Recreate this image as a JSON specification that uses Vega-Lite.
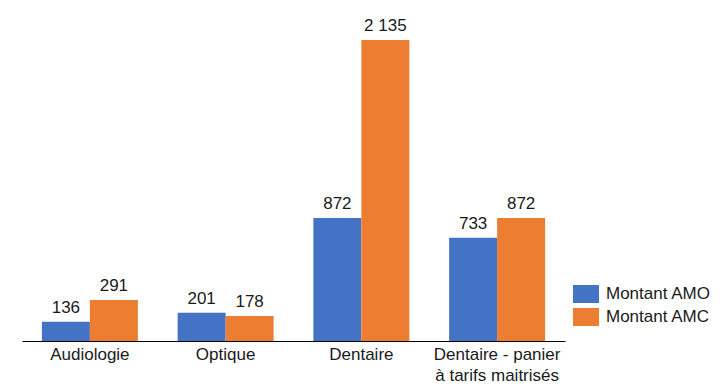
{
  "$schema": "https://vega.github.io/schema/vega-lite/v6.json",
  "width": 543,
  "height": 330,
  "autosize": {"type": "none"},
  "padding": {"left": 22, "top": 11, "right": 163, "bottom": 47},
  "background": "white",
  "config": {
    "font": "Liberation Sans",
    "view": {"stroke": null},
    "locale": {"number": {"decimal": ",", "thousands": " ", "grouping": [3], "currency": ["", " €"]}}
  },
  "data": {
    "values": [
      {"cat": "Audiologie", "serie": "Montant AMO", "value": 136},
      {"cat": "Audiologie", "serie": "Montant AMC", "value": 291},
      {"cat": "Optique", "serie": "Montant AMO", "value": 201},
      {"cat": "Optique", "serie": "Montant AMC", "value": 178},
      {"cat": "Dentaire", "serie": "Montant AMO", "value": 872},
      {"cat": "Dentaire", "serie": "Montant AMC", "value": 2135},
      {"cat": "Dentaire - panier à tarifs maitrisés", "serie": "Montant AMO", "value": 733},
      {"cat": "Dentaire - panier à tarifs maitrisés", "serie": "Montant AMC", "value": 872}
    ]
  },
  "encoding": {
    "x": {
      "field": "cat", "type": "nominal", "sort": null,
      "scale": {"paddingInner": 0.293, "paddingOuter": 0.1465},
      "axis": {
        "title": null, "labelAngle": 0, "ticks": false, "domainColor": "#000", "domainWidth": 1,
        "labelFontSize": 17, "labelColor": "#1a1a1a", "labelPadding": 5, "labelLineHeight": 21,
        "labelExpr": "datum.value == 'Dentaire - panier à tarifs maitrisés' ? ['Dentaire - panier', 'à tarifs maitrisés'] : datum.value"
      }
    },
    "xOffset": {"field": "serie", "type": "nominal", "sort": ["Montant AMO", "Montant AMC"], "scale": {"paddingInner": 0, "paddingOuter": 0}},
    "y": {"field": "value", "type": "quantitative", "scale": {"domain": [0, 2341], "nice": false, "zero": true}, "axis": null}
  },
  "layer": [
    {
      "mark": {"type": "bar"},
      "encoding": {
        "color": {
          "field": "serie", "type": "nominal",
          "scale": {"domain": ["Montant AMO", "Montant AMC"], "range": ["#4472C4", "#ED7D31"]},
          "legend": {
            "title": null, "orient": "none", "legendX": 551, "legendY": 270, "padding": 0,
            "symbolType": "M-1,-0.692H1V0.692H-1Z", "symbolSize": 676, "symbolStrokeWidth": 0,
            "labelFontSize": 17, "labelColor": "#1a1a1a", "labelOffset": 7, "rowPadding": 1
          }
        }
      }
    },
    {
      "mark": {"type": "text", "baseline": "bottom", "dy": -5, "fontSize": 17, "color": "#1a1a1a"},
      "encoding": {"text": {"field": "value", "type": "quantitative", "format": ",d"}}
    }
  ]
}
